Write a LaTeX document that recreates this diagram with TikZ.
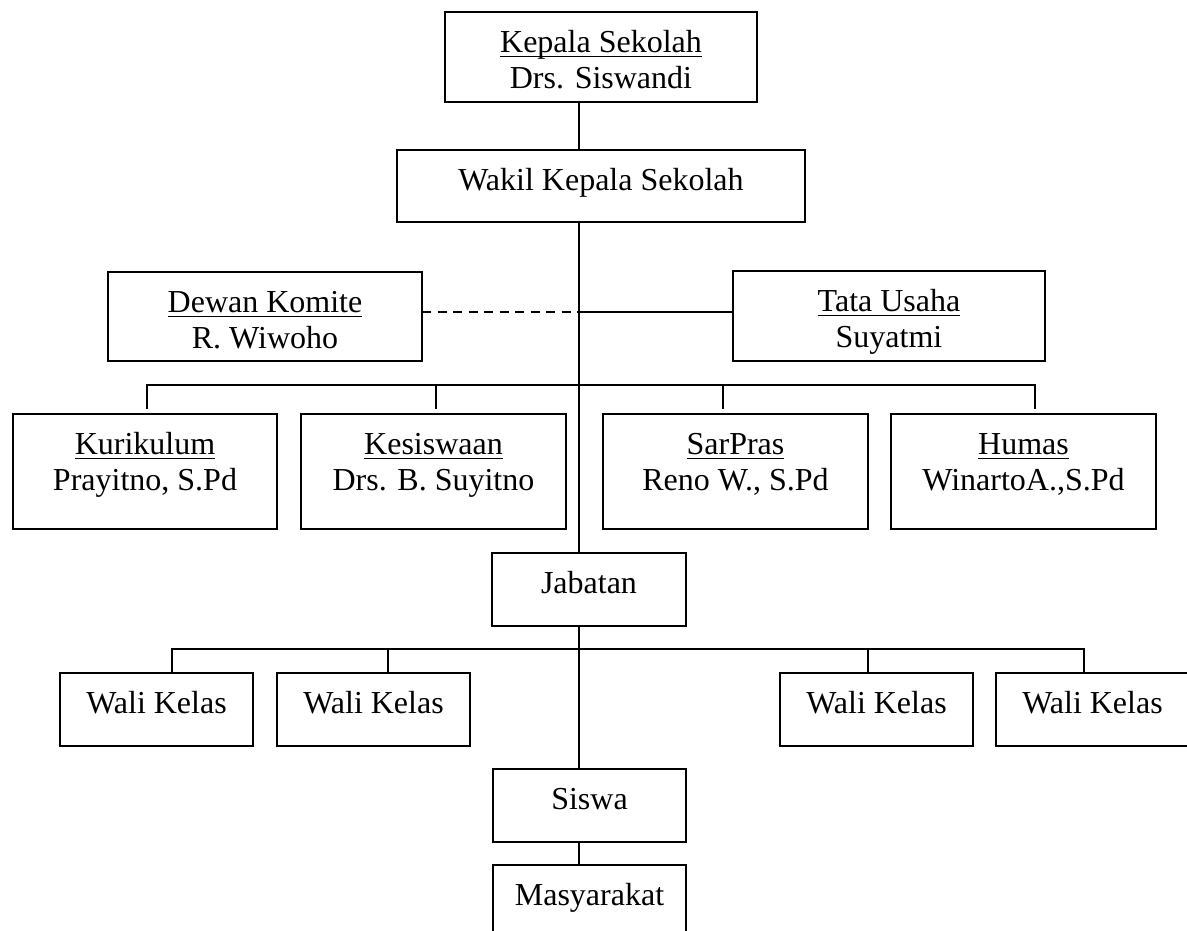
\documentclass[tikz,border=0pt]{standalone}
\usepackage{fontspec}
\setmainfont{Liberation Serif}
\newsavebox\ulbox
\newcommand\ulx[1]{\sbox\ulbox{#1}\rlap{\rule[-5.3pt]{\wd\ulbox}{1.7pt}}\usebox\ulbox}
\newcommand\twol[2]{\vtop{\baselineskip=36pt\lineskiplimit=-100pt\lineskip=0pt\halign{\hfil##\hfil\cr#1\cr#2\cr}}}
\begin{document}
\begin{tikzpicture}[x=1pt,y=-1pt,
  bx/.style={draw,line width=1.6pt,inner sep=0pt,outer sep=0pt,
    font=\fontsize{32}{36}\selectfont,text height=25pt},
  two/.style={bx,minimum width=312pt,minimum height=90pt,text depth=35pt},
  mid/.style={bx,minimum width=265pt,minimum height=115pt,text depth=60pt},
  one/.style={bx,minimum width=193pt,minimum height=73pt,text depth=18pt},
  ln/.style={line width=1.6pt},
]
\useasboundingbox (0,0) rectangle (1187,930);
\clip (0,0) rectangle (1187,930);
\coordinate (m) at (579,0);

% boxes
\node[two] (kepala) at (601,57) {\twol{\ulx{Kepala Sekolah}}{Drs. Siswandi}};
\node[bx,minimum width=408pt,minimum height=72pt,text depth=17pt] (wakil) at (601,186) {Wakil Kepala Sekolah};
\node[two,minimum width=314pt,minimum height=89pt,text depth=34pt] (dewan) at (265,316.5) {\twol{\ulx{Dewan Komite}}{R. Wiwoho}};
\node[two] (tata) at (889,316) {\twol{\ulx{Tata Usaha}}{Suyatmi}};

\node[mid,minimum width=264pt] (kur) at (145,471.5) {\twol{\ulx{Kurikulum}}{Prayitno, S.Pd}};
\node[mid] (kes) at (433.5,471.5) {\twol{\ulx{Kesiswaan}}{Drs. B. Suyitno}};
\node[mid] (sar) at (735.5,471.5) {\twol{\ulx{SarPras}}{Reno W., S.Pd}};
\node[mid] (hum) at (1023.5,471.5) {\twol{\ulx{Humas}}{WinartoA.,S.Pd}};

\node[one,minimum width=194pt] (jab) at (589,589.5) {Jabatan};

\node[one] (wa) at (156.5,709.5) {Wali Kelas};
\node[one] (wb) at (373.5,709.5) {Wali Kelas};
\node[one] (wc) at (876.5,709.5) {Wali Kelas};
\node[one] (wd) at (1092.5,709.5) {Wali Kelas};

\node[one] (siswa) at (589.5,805.5) {Siswa};
\node[one] (masy) at (589.5,901.5) {Masyarakat};

% trunk
\draw[ln] (kepala.south -| m) -- (wakil.north -| m);
\draw[ln] (wakil.south -| m) -- (jab.north -| m);
\draw[ln] (jab.south -| m) -- (siswa.north -| m);
\draw[ln] (siswa.south -| m) -- (masy.north -| m);

% side branches
\coordinate (r1) at (579,312);
\draw[ln,dash pattern=on 9pt off 6.5pt] (dewan.east |- r1) -- (r1);
\draw[ln] (r1) -- (tata.west |- r1);

% first bus
\coordinate (b1) at (147,385);
\coordinate (b2) at (436,385);
\coordinate (b3) at (723,385);
\coordinate (b4) at (1035,385);
\draw[ln] ([yshift=5pt]b1 |- kur.north) -- (b1) -- (b4) -- ([yshift=5pt]b4 |- hum.north);
\draw[ln] (b2) -- ([yshift=5pt]b2 |- kes.north);
\draw[ln] (b3) -- ([yshift=5pt]b3 |- sar.north);

% second bus
\coordinate (w1) at (172,649);
\coordinate (w2) at (388,649);
\coordinate (w3) at (868,649);
\coordinate (w4) at (1084,649);
\draw[ln] (w1 |- wa.north) -- (w1) -- (w4) -- (w4 |- wd.north);
\draw[ln] (w2) -- (w2 |- wb.north);
\draw[ln] (w3) -- (w3 |- wc.north);
\end{tikzpicture}
\end{document}
